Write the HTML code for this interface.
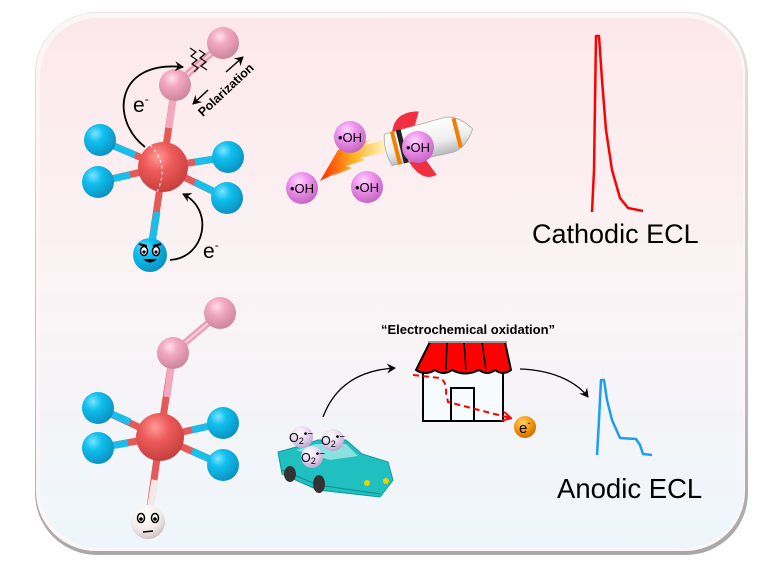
<!DOCTYPE html>
<html><head><meta charset="utf-8"><style>
html,body{margin:0;padding:0;background:#fff;width:766px;height:571px;overflow:hidden}
svg{display:block}
text{font-family:"Liberation Sans",sans-serif}
</style></head><body>
<svg width="766" height="571" viewBox="0 0 766 571" xmlns="http://www.w3.org/2000/svg">
<defs>
<linearGradient id="bg" x1="0" y1="0" x2="0" y2="1">
<stop offset="0" stop-color="#fce8ea"/><stop offset="0.5" stop-color="#fbf3f5"/><stop offset="1" stop-color="#eef6fb"/>
</linearGradient>
<linearGradient id="frame" x1="0" y1="0" x2="0" y2="1"><stop offset="0" stop-color="#e4e4e4"/><stop offset="1" stop-color="#a8a8a8"/></linearGradient>
<radialGradient id="blue" cx="0.35" cy="0.3" r="0.75"><stop offset="0" stop-color="#7fe3ff"/><stop offset="0.35" stop-color="#10c0ee"/><stop offset="1" stop-color="#0a8fc0"/></radialGradient>
<radialGradient id="red" cx="0.4" cy="0.3" r="0.75"><stop offset="0" stop-color="#ff9a98"/><stop offset="0.4" stop-color="#ec5a58"/><stop offset="1" stop-color="#c23d3c"/></radialGradient>
<radialGradient id="pink" cx="0.4" cy="0.3" r="0.75"><stop offset="0" stop-color="#ffe0ea"/><stop offset="0.35" stop-color="#f2a8c0"/><stop offset="1" stop-color="#c9819a"/></radialGradient>
<radialGradient id="oh" cx="0.4" cy="0.3" r="0.75"><stop offset="0" stop-color="#ffd6ff"/><stop offset="0.4" stop-color="#ee93ec"/><stop offset="1" stop-color="#c060c0"/></radialGradient>
<radialGradient id="o2" cx="0.4" cy="0.3" r="0.75"><stop offset="0" stop-color="#ffffff"/><stop offset="0.5" stop-color="#e8d8f0"/><stop offset="1" stop-color="#b8a0c8"/></radialGradient>
<radialGradient id="wht" cx="0.4" cy="0.3" r="0.75"><stop offset="0" stop-color="#fff"/><stop offset="0.6" stop-color="#f4ecec"/><stop offset="1" stop-color="#c8bcbc"/></radialGradient>
<radialGradient id="org" cx="0.4" cy="0.3" r="0.75"><stop offset="0" stop-color="#ffd070"/><stop offset="0.5" stop-color="#f59a10"/><stop offset="1" stop-color="#c86800"/></radialGradient>
<linearGradient id="flame" x1="0" y1="0" x2="1" y2="0"><stop offset="0" stop-color="#ff2a00"/><stop offset="0.5" stop-color="#ffb020"/><stop offset="1" stop-color="#fff6c0"/></linearGradient>
<linearGradient id="rb" x1="0" y1="0" x2="0" y2="1"><stop offset="0" stop-color="#fff"/><stop offset="0.6" stop-color="#eee"/><stop offset="1" stop-color="#b8b8b8"/></linearGradient>
<marker id="ah" markerWidth="10" markerHeight="10" refX="8" refY="5" orient="auto" markerUnits="userSpaceOnUse"><path d="M0,0 L9,5 L0,10 L3,5 Z" fill="#000"/></marker>
<marker id="ahr" markerWidth="10" markerHeight="10" refX="8" refY="5" orient="auto" markerUnits="userSpaceOnUse"><path d="M0,0 L9,5 L0,10" fill="none" stroke="#f00" stroke-width="2"/></marker>
</defs>
<rect x="35" y="12" width="713" height="543" rx="62" fill="url(#frame)"/>
<rect x="36" y="13" width="709" height="538" rx="60" fill="#fdf6f7"/>
<rect x="40" y="18" width="703" height="530" rx="58" fill="url(#bg)"/>

<!-- TOP MOLECULE -->
<g stroke-width="7" stroke-linecap="butt">
<line x1="163" y1="167" x2="100" y2="140" stroke="#e45a58"/><line x1="135" y1="155" x2="100" y2="140" stroke="#18bfeb"/>
<line x1="163" y1="167" x2="98" y2="182" stroke="#e45a58"/><line x1="130" y1="175" x2="98" y2="182" stroke="#18bfeb"/>
<line x1="163" y1="167" x2="228" y2="157" stroke="#e45a58"/><line x1="195" y1="162" x2="228" y2="157" stroke="#18bfeb"/>
<line x1="163" y1="167" x2="227" y2="198" stroke="#e45a58"/><line x1="195" y1="182" x2="227" y2="198" stroke="#18bfeb"/>
<line x1="163" y1="167" x2="150" y2="255" stroke="#e45a58"/><line x1="157" y1="212" x2="150" y2="255" stroke="#18bfeb"/>
<line x1="163" y1="167" x2="175" y2="85" stroke="#e45a58"/><line x1="169" y1="128" x2="175" y2="85" stroke="#f2a8c0"/>
</g>
<line x1="175" y1="85" x2="223" y2="43" stroke="#e9a0b8" stroke-width="7"/>
<line x1="175" y1="85" x2="223" y2="43" stroke="#fbd0de" stroke-width="2"/>
<circle cx="100" cy="140" r="16" fill="url(#blue)"/>
<circle cx="98" cy="182" r="16" fill="url(#blue)"/>
<circle cx="228" cy="157" r="16" fill="url(#blue)"/>
<circle cx="227" cy="198" r="16" fill="url(#blue)"/>
<circle cx="163" cy="167" r="25" fill="url(#red)"/>
<path d="M150,145 Q170,165 157,192" fill="none" stroke="#fff" stroke-width="1" stroke-dasharray="3,3"/>
<circle cx="175" cy="85" r="16" fill="url(#pink)"/>
<circle cx="223" cy="43" r="16" fill="url(#pink)"/>
<path d="M190,48 l6,4 l-5,4 l6,4 l-5,4 l6,4 l-4,4 M199,50 l6,4 l-5,4 l6,4 l-5,4 l6,4" fill="none" stroke="#000" stroke-width="1.2"/>
<circle cx="150" cy="255" r="17" fill="url(#blue)"/>
<ellipse cx="144" cy="251" rx="3.5" ry="4.5" fill="#fff" stroke="#000" stroke-width="1.5"/><circle cx="144" cy="252" r="1.6" fill="#000"/>
<ellipse cx="156" cy="251" rx="3.5" ry="4.5" fill="#fff" stroke="#000" stroke-width="1.5"/><circle cx="156" cy="252" r="1.6" fill="#000"/>
<path d="M139,244 l8,2 M161,244 l-8,2" stroke="#000" stroke-width="2"/>
<path d="M143,259 Q150,266 157,259 Z" fill="#000"/>
<path d="M145,147 C110,120 115,60 183,67" fill="none" stroke="#000" stroke-width="1.8" marker-end="url(#ah)"/>
<path d="M170,260 C205,258 215,210 183,194" fill="none" stroke="#000" stroke-width="1.8" marker-end="url(#ah)"/>
<text x="133" y="112" font-size="21">e<tspan font-size="12" dy="-9">-</tspan></text>
<text x="203" y="258" font-size="21">e<tspan font-size="12" dy="-9">-</tspan></text>
<line x1="208" y1="90" x2="193" y2="104" stroke="#000" stroke-width="1.5" marker-end="url(#ah)"/>
<line x1="226" y1="72" x2="243" y2="57" stroke="#000" stroke-width="1.5" marker-end="url(#ah)"/>
<text x="226" y="94" font-size="12.5" font-weight="bold" text-anchor="middle" transform="rotate(-43 226 90)">Polarization</text>

<!-- rocket -->
<path d="M320,181 L338,172 L332,176 L352,168 L346,166 L365,160 L360,158 L386,152 L384,140 L365,145 L370,140 L350,146 L356,141 L338,150 Z" fill="url(#flame)"/>
<g transform="rotate(-14 428 140)">
<path d="M395,124 Q402,104 426,110 L418,124 Z" fill="#f03040"/>
<path d="M404,156 Q412,180 428,176 L420,156 Z" fill="#f03040"/>
<path d="M387,124 L450,122 Q464,124 474,140 Q464,156 450,158 L387,156 Q382,140 387,124 Z" fill="url(#rb)" stroke="#aaa" stroke-width="0.8"/>
<rect x="393" y="123" width="4" height="34" fill="#f08000"/>
<rect x="399" y="123" width="5" height="34" fill="#222"/>
<rect x="456" y="125" width="4" height="30" fill="#f08000"/>
</g>
<g font-size="13">
<circle cx="350" cy="137" r="16" fill="url(#oh)"/><text x="350" y="142" text-anchor="middle">•OH</text>
<circle cx="418" cy="147" r="16" fill="url(#oh)"/><text x="418" y="152" text-anchor="middle">•OH</text>
<circle cx="302" cy="188" r="16" fill="url(#oh)"/><text x="302" y="193" text-anchor="middle">•OH</text>
<circle cx="367" cy="187" r="16" fill="url(#oh)"/><text x="367" y="192" text-anchor="middle">•OH</text>
</g>

<path d="M592,212 L594,170 L596,36 L599,36 L602,80 L606,130 L612,170 L620,198 L628,208 L643,211" fill="none" stroke="#f00" stroke-width="2.5" stroke-linejoin="round"/>
<text x="532" y="243" font-size="27">Cathodic ECL</text>

<!-- BOTTOM MOLECULE -->
<g stroke-width="7">
<line x1="160" y1="437" x2="98" y2="408" stroke="#e45a58"/><line x1="130" y1="422" x2="98" y2="408" stroke="#18bfeb"/>
<line x1="160" y1="437" x2="98" y2="448" stroke="#e45a58"/><line x1="128" y1="443" x2="98" y2="448" stroke="#18bfeb"/>
<line x1="160" y1="437" x2="223" y2="423" stroke="#e45a58"/><line x1="192" y1="430" x2="223" y2="423" stroke="#18bfeb"/>
<line x1="160" y1="437" x2="223" y2="465" stroke="#e45a58"/><line x1="192" y1="451" x2="223" y2="465" stroke="#18bfeb"/>
<line x1="160" y1="437" x2="148" y2="522" stroke="#e45a58"/><line x1="155" y1="480" x2="148" y2="522" stroke="#f4e8e8"/>
<line x1="160" y1="437" x2="173" y2="353" stroke="#e45a58"/><line x1="167" y1="397" x2="173" y2="353" stroke="#f2a8c0"/>
</g>
<line x1="173" y1="353" x2="220" y2="313" stroke="#e9a0b8" stroke-width="7"/>
<line x1="173" y1="353" x2="220" y2="313" stroke="#fbd0de" stroke-width="2"/>
<circle cx="98" cy="408" r="16" fill="url(#blue)"/>
<circle cx="98" cy="448" r="16" fill="url(#blue)"/>
<circle cx="223" cy="423" r="16" fill="url(#blue)"/>
<circle cx="223" cy="465" r="16" fill="url(#blue)"/>
<circle cx="160" cy="437" r="24" fill="url(#red)"/>
<circle cx="173" cy="353" r="16" fill="url(#pink)"/>
<circle cx="220" cy="313" r="16" fill="url(#pink)"/>
<circle cx="148" cy="522" r="17" fill="url(#wht)"/>
<ellipse cx="141" cy="518" rx="3.5" ry="4.5" fill="#fff" stroke="#000" stroke-width="1.5"/><circle cx="141" cy="519" r="1.8" fill="#000"/>
<ellipse cx="155" cy="518" rx="3.5" ry="4.5" fill="#fff" stroke="#000" stroke-width="1.5"/><circle cx="155" cy="519" r="1.8" fill="#000"/>
<line x1="143" y1="532" x2="153" y2="531" stroke="#000" stroke-width="1.5"/>

<!-- car -->
<path d="M278,452 L300,446 L318,440 L346,440 L362,454 L388,462 L393,480 L380,497 L318,490 L282,474 Z" fill="#20c0c0" stroke="#0f9a9a" stroke-width="1"/>
<path d="M296,450 L316,444 L346,444 L358,456 L330,460 Z" fill="#8de0e0"/>
<path d="M282,470 L318,485 L380,494" fill="none" stroke="#0f8a8a" stroke-width="1"/>
<ellipse cx="290" cy="474" rx="6" ry="8" fill="#333"/>
<ellipse cx="319" cy="484" rx="6" ry="9" fill="#333"/>
<circle cx="367" cy="483" r="3" fill="#f0d000"/><circle cx="386" cy="481" r="3" fill="#f0d000"/>
<g font-size="12.5">
<circle cx="302" cy="437" r="11" fill="url(#o2)"/><text x="289" y="442">O<tspan font-size="9" dy="2">2</tspan><tspan font-size="10" dy="-7">•−</tspan></text>
<circle cx="333" cy="440" r="11" fill="url(#o2)"/><text x="321" y="445">O<tspan font-size="9" dy="2">2</tspan><tspan font-size="10" dy="-7">•−</tspan></text>
<circle cx="312" cy="457" r="11" fill="url(#o2)"/><text x="301" y="462">O<tspan font-size="9" dy="2">2</tspan><tspan font-size="10" dy="-7">•−</tspan></text>
</g>
<path d="M323,417 C335,385 360,370 395,368" fill="none" stroke="#000" stroke-width="1.3" marker-end="url(#ah)"/>

<text x="468" y="334" font-size="13" font-weight="bold" text-anchor="middle">“Electrochemical oxidation”</text>
<rect x="423" y="368" width="80" height="53" fill="#f6fbfd" stroke="#000" stroke-width="2"/>
<rect x="451" y="388" width="23" height="33" fill="none" stroke="#000" stroke-width="2"/>
<path d="M430,342 L505,342 L511,370 Q503,376 495,370 Q488,376 479,370 Q465,377 452,370 Q443,376 435,370 Q425,376 416,370 Z" fill="#f00" stroke="#000" stroke-width="2" stroke-linejoin="round"/>
<path d="M447,342 L446,370 M464,342 L466,370 M482,342 L486,370" stroke="#000" stroke-width="1.5"/>
<line x1="428" y1="342" x2="507" y2="342" stroke="#999" stroke-width="2"/>
<path d="M413,375 L440,378 Q447,382 446,393 L448,402 L510,418" fill="none" stroke="#f00" stroke-width="2" stroke-dasharray="6,4" marker-end="url(#ahr)"/>
<circle cx="525" cy="427" r="11" fill="url(#org)"/>
<text x="519" y="433" font-size="15">e<tspan font-size="9" dy="-7">-</tspan></text>
<path d="M520,369 C550,370 575,380 588,397" fill="none" stroke="#000" stroke-width="1.3" marker-end="url(#ah)"/>

<path d="M597,455 L599,420 L601,380 L604,380 L607,400 L612,420 L620,438 L636,439 L640,445 L643,454 L652,455" fill="none" stroke="#1aa0f0" stroke-width="2.5" stroke-linejoin="round"/>
<text x="557" y="498" font-size="27.5">Anodic ECL</text>
</svg>
</body></html>
